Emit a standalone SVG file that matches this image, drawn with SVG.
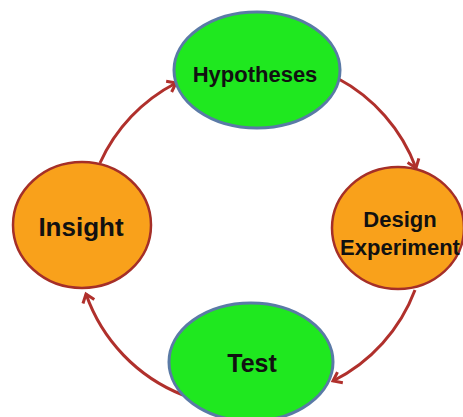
<svg xmlns="http://www.w3.org/2000/svg" width="463" height="417" viewBox="0 0 463 417">
<style>
.g{fill:#1fe81f;stroke:#5a7aa6;stroke-width:3}
.o{fill:#f9a11b;stroke:#a52f28;stroke-width:2.5}
.t{font-family:"Liberation Sans",Arial,sans-serif;font-weight:bold;fill:#111;text-anchor:middle}
.c{fill:none;stroke:#b0302c;stroke-width:3}
</style>
<defs>
<marker id="ah" markerUnits="userSpaceOnUse" markerWidth="20" markerHeight="20" refX="0" refY="0" viewBox="-12 -10 14 20" orient="auto">
<path d="M-8,-6 L0,0 L-8,6" fill="none" stroke="#b0302c" stroke-width="3"/>
</marker>
</defs>
<rect width="463" height="417" fill="#ffffff"/>
<g id="connectors">
<path class="c" d="M100,163 A168,168 0 0 1 176,83" marker-end="url(#ah)"/>
<path class="c" d="M337,78 A168,168 0 0 1 416,168" marker-end="url(#ah)"/>
<path class="c" d="M415,290 A168,168 0 0 1 333,381" marker-end="url(#ah)"/>
<path class="c" d="M183,395 A168,168 0 0 1 86,294" marker-end="url(#ah)"/>
</g>
<g id="hypotheses">
<ellipse class="g" cx="257" cy="70" rx="83" ry="58"/>
<text class="t" x="255" y="82" font-size="22">Hypotheses</text>
</g>
<g id="design">
<ellipse class="o" cx="398" cy="228" rx="66" ry="61"/>
<text class="t" x="400" y="227" font-size="22">Design</text>
<text class="t" x="400" y="255" font-size="22">Experiment</text>
</g>
<g id="test">
<ellipse class="g" cx="251" cy="362" rx="82" ry="59"/>
<text class="t" x="252" y="372" font-size="25">Test</text>
</g>
<g id="insight">
<ellipse class="o" cx="82" cy="225" rx="69" ry="63"/>
<text class="t" x="81" y="236" font-size="26">Insight</text>
</g>
</svg>
